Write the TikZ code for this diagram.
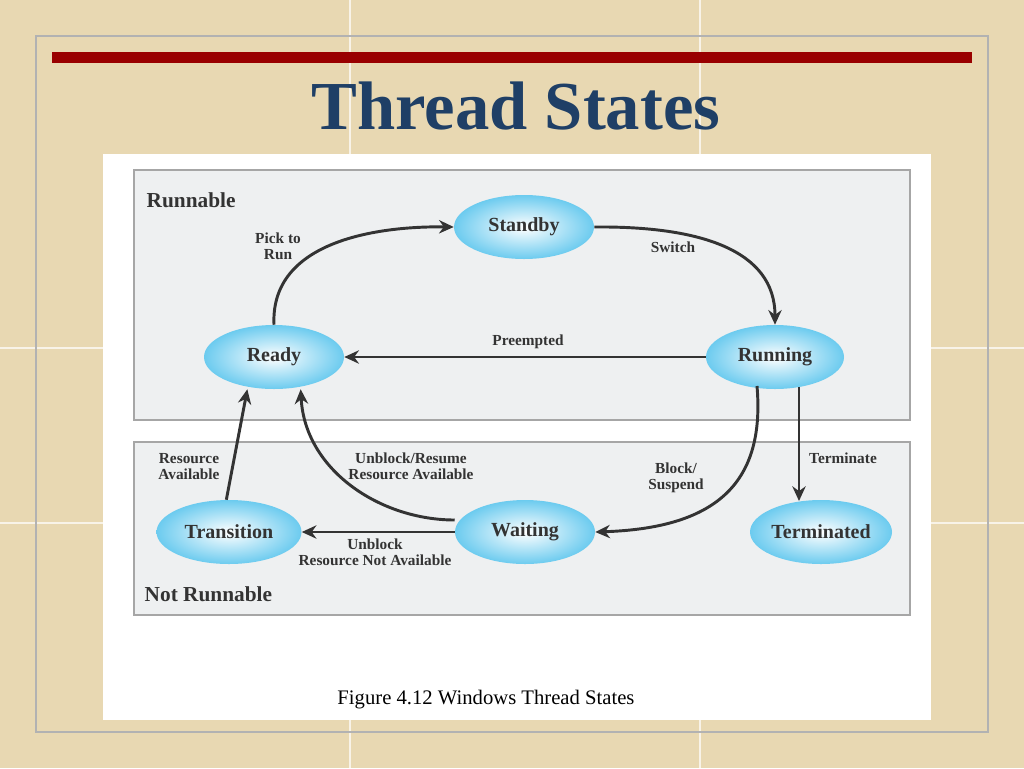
\documentclass[tikz,border=0pt]{standalone}
\usepackage{fontspec}
\setmainfont{Liberation Serif}
\usetikzlibrary{arrows.meta,shapes.geometric}
\definecolor{bg}{HTML}{E8D8B2}
\definecolor{titleblue}{HTML}{1F3F66}
\definecolor{boxfill}{HTML}{EEF0F1}
\definecolor{ink}{HTML}{333333}
\definecolor{ellout}{HTML}{6CCBEF}
\tikzset{
 st/.style={ellipse,minimum width=#1*0.75pt,minimum height=48pt,inner sep=0pt,
   shading=radial,inner color=white,outer color=ellout,font=\bfseries\fontsize{15}{15}\selectfont,text=ink},
 ar/.style={draw=ink,line width=2.2pt,-{Stealth[length=11pt,width=10pt]}},
 lab/.style={font=\bfseries\fontsize{11.5}{12}\selectfont,text=ink,align=center},
 grp/.style={draw=gray!70,fill=boxfill,line width=0.8pt},
 grplab/.style={font=\bfseries\fontsize{16}{16}\selectfont,text=ink,anchor=west}
}
\begin{document}
\begin{tikzpicture}[x=0.75pt,y=-0.75pt]
\fill[bg] (0,0) rectangle (1024,768);
\useasboundingbox (0,0) rectangle (1024,768);
\draw[white!70!bg,line width=1pt] (350,0)--(350,768) (700,0)--(700,768) (0,348)--(1024,348) (0,523)--(1024,523);
\draw[gray!60,line width=1pt] (36,36) rectangle (988,732);
\fill[red!60!black] (52,52) rectangle (972,63);
\node[font=\bfseries\fontsize{50}{50}\selectfont,text=titleblue,scale=1.03] (title) at (516,106) {Thread States};
\fill[white] (103,154) rectangle (931,720);
\draw[grp] (134,170) rectangle (910,420);
\draw[grp] (134,442) rectangle (910,615);
\node[grplab] (rl) at (142,200) {Runnable};
\node[grplab] (nrl) at (140,594) {Not Runnable};
\node[st=140] (standby) at (524,227) {Standby};
\node[st=140] (ready) at (274,357) {Ready};
\node[st=138] (running) at (775,357) {Running};
\node[st=145] (trans) at (229,532) {Transition};
\node[st=140] (waiting) at (525,532) {Waiting};
\node[st=142] (term) at (821,532) {Terminated};
\coordinate (rb1) at (757,386);
\coordinate (rb2) at (799,387);
\coordinate (tt) at (799,501);
\draw[ar] (ready.north) .. controls (270,240) and (380,226) .. (standby.west);
\draw[ar] (standby.east) .. controls (700,226) and (775,250) .. (running.north);
\draw[ar] (running.west) -- (ready.east);
\draw[ar] (rb1) .. controls (765,480) and (720,528) .. (waiting.east);
\draw[ar] (rb2) -- (tt);
\draw[ar] (waiting.west) ++(0,-12) .. controls (380,520) and (305,470) .. ([xshift=20]ready.south);
\draw[ar] (waiting.west) -- (trans.east);
\draw[ar] ([xshift=-2]trans.north) -- ([xshift=-20]ready.south);
\node[lab] (l1) at (278,246) {Pick to\\Run};
\node[lab] (l2) at (673,247) {Switch};
\node[lab] (l3) at (528,342) {Preempted};
\node[lab] (l4) at (676,478) {Block/\\Suspend};
\node[lab] (l5) at (843,458) {Terminate};
\node[lab] (l6) at (411,466) {Unblock/Resume\\Resource Available};
\node[lab] (l7) at (375,552) {Unblock\\Resource Not Available};
\node[lab] (l8) at (189,467) {Resource\\Available};
\node[font=\fontsize{15.5}{15.5}\selectfont] (cap) at (486,700) {Figure 4.12 Windows Thread States};
\end{tikzpicture}
\end{document}
